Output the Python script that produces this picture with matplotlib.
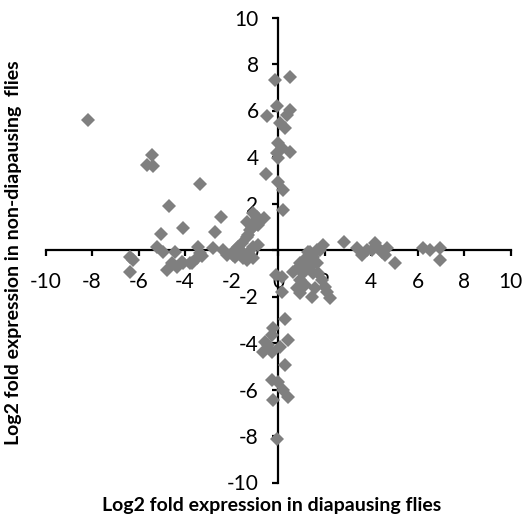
import numpy as np
import matplotlib.pyplot as plt

plt.rcParams['font.family'] = ['Lato', 'DejaVu Sans']
plt.rcParams['axes.unicode_minus'] = False

# log2 fold change, diapausing (x) vs non-diapausing (y)
x_diap = [
    -8.16, -5.43, -5.65, -5.39, -3.35, -4.67, -2.45, -4.10, -5.03, -2.71,
    -0.60, -0.52, -0.49,
    -6.37, -6.22, -6.37, -5.22, -4.93, -4.43, -4.57, -4.79, -4.36, -4.14,
    -3.78, -3.50, -3.43, -3.35, -2.80, -3.25, -4.07, -3.71,
    -2.35, -2.20, -1.85, -1.63, -1.56, -1.35, -1.20, -1.06, -0.92, -1.06,
    -1.28, -1.49, -1.06, -1.35, -0.85, -1.13, -1.28, -1.71, -1.06, -0.85,
    -1.85, -1.92, -1.35,
    -0.13, 0.52, -0.06, 0.52, 0.37, 0.09, 0.30, 0.01, 0.16, 0.52,
    -0.06, 0.01, 0.01, 0.23, 0.23,
    1.31, 1.95, 2.85, 3.38, 3.60, 3.81, 4.03, 4.17, 4.31, 4.46,
    4.67, 4.60, 5.03, 6.25, 6.54, 6.97, 6.97,
    1.81, 1.66, 1.45, 1.23, 1.09, 0.87, 0.66, 1.38, 1.52, 0.95,
    1.16, 0.80, 0.95, 1.45, 1.59, 2.02, 2.09, 2.24, 1.88, 1.73,
    1.52, 0.95, 1.66, 1.09, 1.38,
    -0.10, 0.16, 0.16, 0.30, -0.20, -0.27, -0.56, -0.42, -0.63, -0.27,
    0.09, 0.44, 0.30, -0.27, 0.01, 0.23, -0.20, 0.44, -0.06,
]
y_nondiap = [
    5.59, 4.09, 3.66, 3.61, 2.84, 1.89, 1.43, 0.93, 0.67, 0.76,
    1.36, 3.27, 5.76,
    -0.31, -0.43, -0.93, 0.14, -0.07, -0.07, -0.57, -0.86, -0.72, -0.50,
    -0.57, -0.36, 0.14, -0.14, 0.10, -0.25, -0.57, -0.57,
    0.00, -0.22, -0.29, 0.00, 0.29, 0.57, 0.86, 1.15, 1.43, 0.14,
    -0.14, -0.36, 1.58, 1.22, 1.07, 0.93, 0.65, 0.14, -0.36, 0.22,
    0.00, -0.22, -0.43,
    7.31, 7.45, 6.19, 6.02, 5.81, 5.45, 5.23, 4.59, 4.37, 4.23,
    4.16, 3.94, 2.94, 2.58, 1.72,
    -0.07, 0.20, 0.36, 0.07, -0.22, 0.00, 0.00, 0.29, 0.07, -0.07,
    0.07, -0.22, -0.57, 0.07, 0.00, 0.07, -0.43,
    0.00, 0.00, -0.22, -0.29, -0.57, -0.79, -0.93, -0.72, -1.00, -1.29,
    -1.50, -1.65, -1.86, -2.00, -1.65, -1.58, -1.79, -2.08, -1.29, -1.00,
    -0.29, -0.57, -0.57, -1.00, -0.07,
    -1.07, -1.15, -1.79, -2.98, -3.37, -3.66, -3.94, -4.09, -4.37, -4.37,
    -4.16, -3.87, -4.95, -5.59, -5.66, -6.02, -6.45, -6.31, -8.15,
]
ticks = np.arange(-10, 11, 2)

fig = plt.figure(figsize=(5.24, 5.17), dpi=100)
ax = fig.add_axes([45.5 / 524, 1 - 482.5 / 517, 465 / 524, 465 / 517])

ax.plot(x_diap, y_nondiap, linestyle="none", marker="D", markersize=7,
        color="#7f7f7f", markeredgewidth=0, zorder=3)

ax.set_xlim(-10, 10)
ax.set_ylim(-10, 10)
ax.set_xticks(ticks)
ax.set_yticks(ticks)

# Excel-style axes crossing at zero
ax.spines["left"].set_position(("data", 0))
ax.spines["bottom"].set_position(("data", 0))
ax.spines["top"].set_visible(False)
ax.spines["right"].set_visible(False)
for sp in ("left", "bottom"):
    ax.spines[sp].set_linewidth(1.6)
    ax.spines[sp].set_zorder(2)
ax.tick_params(axis="x", direction="out", length=4, width=1.6, pad=12, labelsize=15)
ax.tick_params(axis="y", direction="out", length=4, width=1.6, pad=10, labelsize=15)
ax.patch.set_visible(False)

fig.text(272 / 524, 1 - 505 / 517, "Log2 fold expression in diapausing flies",
         ha="center", va="center", fontsize=14, fontweight="bold")
fig.text(14 / 524, 1 - 253 / 517, "Log2 fold expression in non-diapausing  flies",
         ha="center", va="center", rotation=90, fontsize=14, fontweight="bold")

fig.savefig("out.png", dpi=100)
